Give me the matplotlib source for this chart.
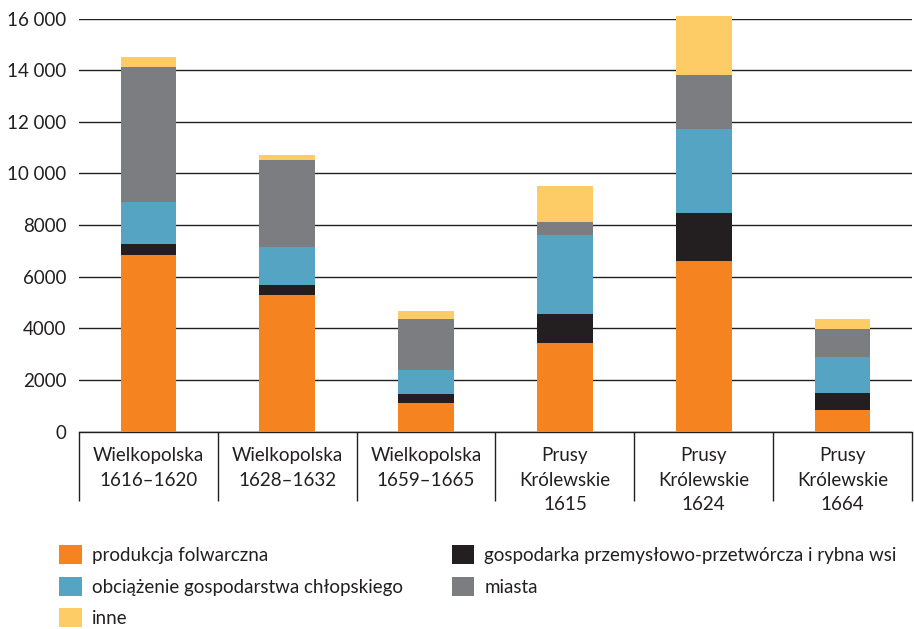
import numpy as np
import matplotlib
matplotlib.use('Agg')
import matplotlib.pyplot as plt

plt.rcParams['font.family'] = ['Lato', 'DejaVu Sans']

kategorie = ['Wielkopolska\n1616–1620', 'Wielkopolska\n1628–1632',
             'Wielkopolska\n1659–1665', 'Prusy\nKrólewskie\n1615',
             'Prusy\nKrólewskie\n1624', 'Prusy\nKrólewskie\n1664']

folwark = [6860, 5280, 1120, 3430, 6600, 830]
przemysl = [410, 410, 340, 1130, 1870, 680]
chlopi = [1640, 1450, 920, 3070, 3265, 1370]
miasta = [5220, 3370, 2000, 490, 2075, 1110]
inne = [360, 220, 290, 1380, 2270, 375]

y_ticks = [0, 2000, 4000, 6000, 8000, 10000, 12000, 14000, 16000]
y_labels = ['0', '2000', '4000', '6000', '8000', '10 000', '12 000',
            '14 000', '16 000']

serie = [
    ('produkcja folwarczna', folwark, '#F5831F'),
    ('gospodarka przemysłowo-przetwórcza i rybna wsi', przemysl, '#231F20'),
    ('obciążenie gospodarstwa chłopskiego', chlopi, '#55A4C4'),
    ('miasta', miasta, '#7C7D81'),
    ('inne', inne, '#FECC66'),
]

fig = plt.figure(figsize=(9.14, 6.29), dpi=100)
ax = fig.add_axes([79 / 914, 1 - 431.7 / 629, 833 / 914, 413.2 / 629])

x = np.arange(len(kategorie))
bottom = np.zeros(len(kategorie))
uchwyty = {}
for nazwa, wart, kol in serie:
    b = ax.bar(x, wart, 0.4, bottom=bottom, color=kol, lw=0, zorder=3,
               label=nazwa, clip_on=False)
    uchwyty[nazwa] = b
    bottom += np.array(wart)

ax.set_xlim(-0.5, len(kategorie) - 0.5)
ax.set_ylim(0, 16000)
ax.set_yticks(y_ticks)
ax.set_yticklabels(y_labels)
ax.yaxis.grid(True, color='#231F20', lw=1.0, zorder=0)
ax.set_axisbelow(True)
for s in ['left', 'top', 'right']:
    ax.spines[s].set_visible(False)
ax.spines['bottom'].set_color('#231F20')
ax.spines['bottom'].set_linewidth(1.0)

ax.set_xticks(x)
ax.set_xticklabels(kategorie, linespacing=1.55)
ax.set_xticks(np.arange(-0.5, len(kategorie)), minor=True)
ax.tick_params(axis='x', which='major', length=0, pad=11, labelsize=13.5,
               colors='#231F20')
ax.tick_params(axis='x', which='minor', length=50, width=1.0,
               color='#231F20')
ax.tick_params(axis='y', length=0, pad=9, labelsize=13.5, colors='#231F20')

kolejnosc = ['produkcja folwarczna', 'obciążenie gospodarstwa chłopskiego',
             'inne', 'gospodarka przemysłowo-przetwórcza i rybna wsi',
             'miasta']
fig.legend([uchwyty[k] for k in kolejnosc], kolejnosc, ncol=2,
           loc='upper left', bbox_to_anchor=(59 / 914, 1 - 545 / 629),
           frameon=False, fontsize=13.5, handlelength=1.2,
           handleheight=1.2, handletextpad=0.55, columnspacing=2.6,
           labelspacing=0.66, borderpad=0, borderaxespad=0,
           labelcolor='#231F20')

fig.savefig('out.png', dpi=100)
